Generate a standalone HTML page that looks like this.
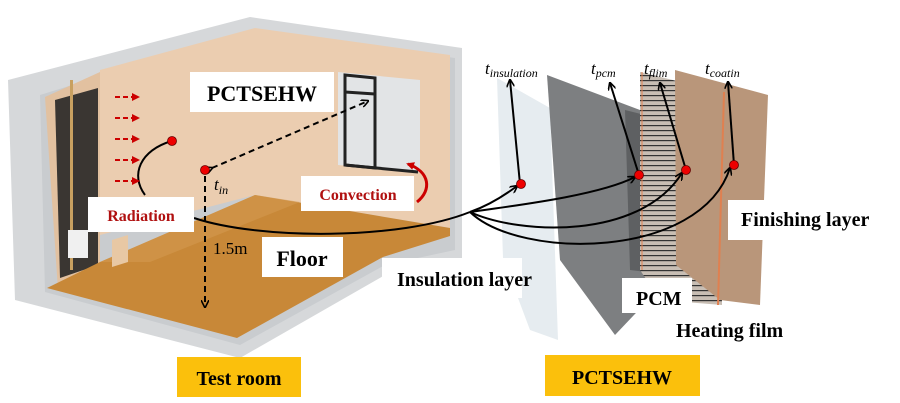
<!DOCTYPE html>
<html><head><meta charset="utf-8"><style>
body{margin:0;background:#fff;}
svg{display:block;}
text{font-family:"Liberation Serif",serif;}
</style></head><body>
<svg width="900" height="403" viewBox="0 0 900 403" xmlns="http://www.w3.org/2000/svg">
<defs>
<marker id="ah" markerWidth="8" markerHeight="8" refX="7" refY="4" orient="auto" markerUnits="userSpaceOnUse"><path d="M0,0 L8,4 L0,8" fill="none" stroke="#000" stroke-width="1.6"/></marker>
<marker id="ahr" markerWidth="8" markerHeight="8" refX="6" refY="4" orient="auto" markerUnits="userSpaceOnUse"><path d="M0,0 L8,4 L0,8 z" fill="#c00"/></marker>
<pattern id="lines" width="4" height="5" patternUnits="userSpaceOnUse"><rect width="4" height="5" fill="#c8beb4"/><rect width="4" height="1.2" fill="#333"/></pattern>
</defs>
<polygon points="8,80 250,17 462,48 462,258 385,275 240,358 15,300" fill="#d6d8da"/>
<polygon points="40,95 250,30 455,58 455,250 385,265 240,345 45,292" fill="#c9cccf"/>
<polygon points="100,70 255,28 450,55 450,228 255,195 100,235" fill="#ebcdb0"/>
<polygon points="45,97 100,72 100,270 58,290" fill="#e2c1a0"/>
<polygon points="55,100 98,88 98,265 60,278" fill="#3a3632"/>
<rect x="70" y="80" width="3" height="190" fill="#c8a060"/>
<polygon points="47,288 100,262 255,195 450,228 450,236 383,257 237,338" fill="#c88838"/>
<polygon points="100,262 255,195 300,202 150,262" fill="#d39a50" opacity="0.6"/>
<rect x="68" y="230" width="20" height="28" fill="#f0f0f0"/>
<polygon points="112,240 128,235 128,262 112,267" fill="#e8c8a4"/>
<polygon points="338,72 420,80 420,172 338,165" fill="#e2e4e6"/>
<polygon points="345,75 375,78 375,168 345,165" fill="none" stroke="#222" stroke-width="3"/>
<line x1="345" y1="92" x2="375" y2="94" stroke="#222" stroke-width="3"/>
<line x1="345" y1="165" x2="418" y2="172" stroke="#222" stroke-width="3"/>
<polygon points="497,78 550,108 558,340 530,330 503,258" fill="#e6ecf0"/>
<polygon points="547,75 672,122 672,275 615,335 560,260" fill="#7d7f81"/>
<polygon points="625,110 672,122 672,275 630,270" fill="#5e6062"/>
<polygon points="640,72 722,92 722,305 660,300 640,270" fill="url(#lines)"/>
<polygon points="675,70 768,95 760,305 720,300 676,265" fill="#b9967a"/>
<line x1="724" y1="92" x2="718" y2="305" stroke="#e08050" stroke-width="2"/>
<line x1="642" y1="72" x2="642" y2="270" stroke="#e08050" stroke-width="1"/>
<g fill="none" stroke="#000" stroke-width="2">
<path d="M145,195 C130,175 140,150 172,141"/>
<path d="M194,218 C260,240 400,240 470,212"/>
<path d="M470,212 C490,205 505,195 517,186" marker-end="url(#ah)"/>
<path d="M470,212 C520,205 600,195 635,177" marker-end="url(#ah)"/>
<path d="M470,212 C520,235 640,240 682,173" marker-end="url(#ah)"/>
<path d="M470,212 C520,260 700,260 730,168" marker-end="url(#ah)"/>
<path d="M520,184 L510,80" marker-end="url(#ah)"/>
<path d="M639,175 L610,83" marker-end="url(#ah)"/>
<path d="M686,170 L660,83" marker-end="url(#ah)"/>
<path d="M734,165 L728,82" marker-end="url(#ah)"/>
</g>
<g fill="none" stroke="#000" stroke-width="2" stroke-dasharray="6,4">
<path d="M212,168 L368,101" marker-end="url(#ah)" marker-start="url(#ah)"/>
<path d="M205,176 L205,307" marker-end="url(#ah)"/>
</g>
<g stroke="#c00" stroke-width="2" stroke-dasharray="5,3" fill="none">
<line x1="115" y1="97" x2="138" y2="97" marker-end="url(#ahr)"/>
<line x1="115" y1="118" x2="138" y2="118" marker-end="url(#ahr)"/>
<line x1="115" y1="139" x2="138" y2="139" marker-end="url(#ahr)"/>
<line x1="115" y1="160" x2="138" y2="160" marker-end="url(#ahr)"/>
<line x1="115" y1="181" x2="138" y2="181" marker-end="url(#ahr)"/>
</g>
<path d="M417,202 C432,190 430,172 408,164" fill="none" stroke="#c00" stroke-width="3" marker-end="url(#ahr)"/>
<g fill="#e00" stroke="#600" stroke-width="0.8">
<circle cx="172" cy="141" r="4.5"/><circle cx="205" cy="170" r="4.5"/>
<circle cx="521" cy="184" r="4.5"/><circle cx="639" cy="175" r="4.5"/>
<circle cx="686" cy="170" r="4.5"/><circle cx="734" cy="165" r="4.5"/>
</g>
<rect x="190" y="72" width="144" height="40" fill="#fff"/>
<text x="262" y="101" font-size="22" font-weight="bold" text-anchor="middle">PCTSEHW</text>
<rect x="88" y="197" width="106" height="35" fill="#fff"/>
<text x="141" y="221" font-size="16" font-weight="bold" fill="#b01010" text-anchor="middle">Radiation</text>
<rect x="301" y="176" width="113" height="35" fill="#fff"/>
<text x="358" y="200" font-size="16" font-weight="bold" fill="#b01010" text-anchor="middle">Convection</text>
<rect x="262" y="237" width="81" height="40" fill="#fff"/>
<text x="302" y="266" font-size="22" font-weight="bold" text-anchor="middle">Floor</text>
<text x="213" y="254" font-size="17">1.5m</text>
<text x="214" y="190" font-size="17" font-style="italic">t<tspan font-size="12" dy="4">in</tspan></text>
<rect x="382" y="258" width="140" height="40" fill="#fff"/>
<text x="397" y="286" font-size="20" font-weight="bold">Insulation layer</text>
<rect x="728" y="200" width="160" height="40" fill="#fff"/>
<text x="741" y="226" font-size="20" font-weight="bold">Finishing layer</text>
<rect x="622" y="278" width="70" height="35" fill="#fff"/>
<text x="636" y="305" font-size="20" font-weight="bold">PCM</text>
<text x="676" y="337" font-size="20" font-weight="bold">Heating film</text>
<text x="485" y="74" font-size="17" font-style="italic">t<tspan font-size="12" dy="3">insulation</tspan></text>
<text x="591" y="74" font-size="17" font-style="italic">t<tspan font-size="12" dy="3">pcm</tspan></text>
<text x="644" y="74" font-size="17" font-style="italic">t<tspan font-size="12" dy="3">flim</tspan></text>
<text x="705" y="74" font-size="17" font-style="italic">t<tspan font-size="12" dy="3">coatin</tspan></text>
<rect x="177" y="357" width="124" height="40" fill="#fbc00c"/>
<text x="239" y="385" font-size="20" font-weight="bold" text-anchor="middle">Test room</text>
<rect x="545" y="355" width="155" height="41" fill="#fbc00c"/>
<text x="622" y="384" font-size="20" font-weight="bold" text-anchor="middle">PCTSEHW</text>
</svg>
</body></html>
